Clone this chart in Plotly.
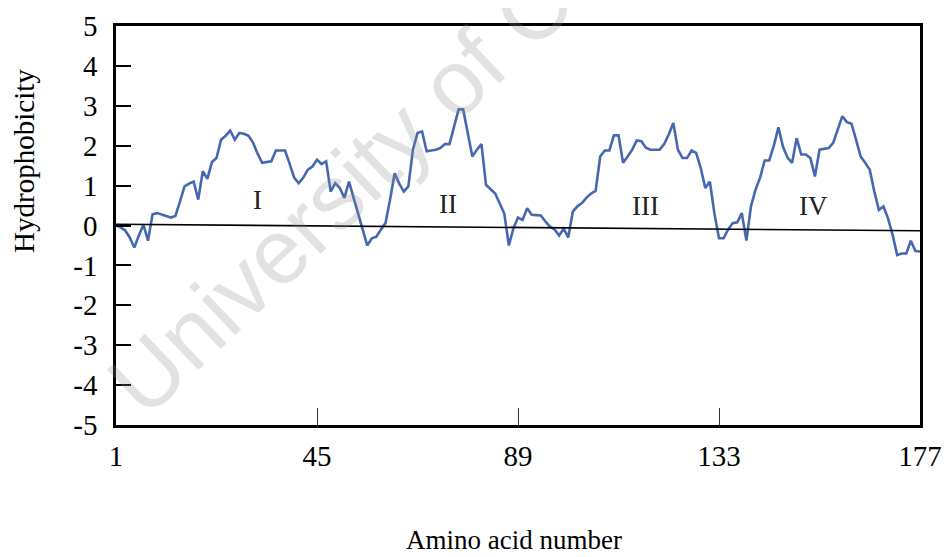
import plotly.graph_objects as go

residues = list(range(1, 178))
hydrophobicity = [
    0.02, -0.05, -0.12, -0.3, -0.55, -0.25, 0.02, -0.38, 0.28, 0.31,
    0.28, 0.24, 0.2, 0.24, 0.6, 0.98, 1.05, 1.1, 0.65, 1.36,
    1.17, 1.59, 1.69, 2.15, 2.25, 2.38, 2.15, 2.32, 2.3, 2.25,
    2.08, 1.8, 1.57, 1.59, 1.61, 1.88, 1.88, 1.88, 1.55, 1.2,
    1.06, 1.2, 1.4, 1.48, 1.65, 1.54, 1.61, 0.85, 1.06, 0.94,
    0.69, 1.1, 0.7, 0.3, -0.1, -0.5, -0.32, -0.28, -0.1, 0.06,
    0.65, 1.31, 1.05, 0.85, 0.98, 1.9, 2.32, 2.36, 1.86, 1.88,
    1.9, 1.94, 2.04, 2.04, 2.5, 2.91, 2.91, 2.32, 1.73, 1.9,
    2.04, 1.02, 0.9, 0.8, 0.55, 0.3, -0.5, -0.07, 0.2, 0.14,
    0.43, 0.27, 0.26, 0.25, 0.1, -0.03, -0.1, -0.25, -0.08, -0.3,
    0.35, 0.48, 0.56, 0.7, 0.8, 0.87, 1.73, 1.88, 1.88, 2.26,
    2.26, 1.57, 1.73, 1.9, 2.13, 2.11, 1.95, 1.9, 1.9, 1.9,
    2.04, 2.28, 2.57, 1.9, 1.69, 1.69, 1.88, 1.82, 1.44, 0.94,
    1.1, 0.3, -0.32, -0.32, -0.1, 0.06, 0.08, 0.31, -0.38, 0.48,
    0.9, 1.2, 1.63, 1.63, 2.0, 2.46, 1.98, 1.7, 1.57, 2.19,
    1.78, 1.78, 1.69, 1.23, 1.9, 1.92, 1.94, 2.07, 2.4, 2.74,
    2.59, 2.55, 2.15, 1.73, 1.57, 1.4, 0.85, 0.39, 0.48, 0.18,
    -0.23, -0.74, -0.7, -0.7, -0.38, -0.64, -0.65,
]
assert len(hydrophobicity) == len(residues)

x_ticks = [1, 45, 89, 133, 177]
y_ticks = [5, 4, 3, 2, 1, 0, -1, -2, -3, -4, -5]

domain_labels = ["I", "II", "III", "IV"]
domain_x = [31.9, 73.7, 117.0, 153.6]
domain_y = [0.65, 0.53, 0.48, 0.48]

serif = "Liberation Serif, Times New Roman, serif"

fig = go.Figure()
fig.add_trace(go.Scatter(
    x=residues, y=hydrophobicity, mode="lines",
    line=dict(color="#4668b0", width=2.6), showlegend=False,
))

# zero reference line (slightly tilted as in scan)
fig.add_shape(type="line", xref="x", yref="y", x0=1, y0=0.03, x1=177, y1=-0.13,
              line=dict(color="black", width=1.6))

for lab, xx, yy in zip(domain_labels, domain_x, domain_y):
    fig.add_annotation(x=xx, y=yy, text=lab, showarrow=False,
                       xanchor="center", yanchor="middle",
                       font=dict(family=serif, size=27, color="#222222"))

# watermark
fig.add_annotation(xref="paper", yref="paper", x=0.455, y=0.925,
                   xanchor="center", yanchor="middle",
                   text="University of Cape Town", showarrow=False, textangle=-43.6,
                   font=dict(family="Liberation Sans, Arial, sans-serif", size=92,
                             color="rgba(140,140,140,0.25)"))

# axis titles
fig.add_annotation(xref="paper", yref="paper", x=0.495, y=-0.288,
                   xanchor="center", yanchor="middle",
                   text="Amino acid number", showarrow=False,
                   font=dict(family=serif, size=27, color="black"))
fig.add_annotation(xref="paper", yref="paper", x=-0.1144, y=0.662,
                   xanchor="center", yanchor="middle",
                   text="Hydrophobicity", showarrow=False, textangle=-90,
                   font=dict(family=serif, size=29, color="black"))

fig.update_xaxes(
    range=[1, 177], tickvals=x_ticks, ticktext=[str(v) for v in x_ticks],
    showgrid=False, zeroline=False, showline=True, mirror=True,
    linecolor="black", linewidth=2.5, automargin=False,
    ticks="inside", ticklen=17, tickwidth=1, tickcolor="#333333",
    tickfont=dict(family=serif, size=29, color="black"),
    ticklabelstandoff=3,
)
fig.update_yaxes(
    range=[-5, 5], tickvals=y_ticks, ticktext=[str(v) for v in y_ticks],
    showgrid=False, zeroline=False, showline=True, mirror=True,
    linecolor="black", linewidth=2.5, automargin=False,
    ticks="inside", ticklen=15, tickwidth=2, tickcolor="black",
    tickfont=dict(family=serif, size=29, color="black"),
    ticklabelstandoff=10,
)
# page body has an 8px margin; figure sized so the plot lands where the reference has it
fig.update_layout(
    width=942, height=549,
    margin=dict(l=108, r=30, t=18, b=132),
    paper_bgcolor="white", plot_bgcolor="white",
)
fig.write_html("out.html")
